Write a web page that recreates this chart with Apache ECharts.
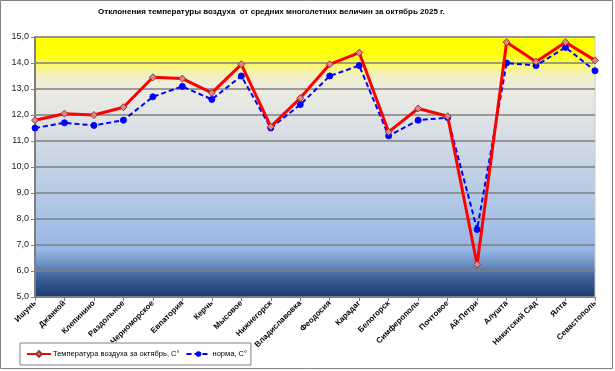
<!DOCTYPE html>
<html><head><meta charset="utf-8">
<script src="https://cdn.jsdelivr.net/npm/echarts@6/dist/echarts.min.js"></script>
<style>html,body{margin:0;padding:0;background:#fff}#c{width:615px;height:371px}</style>
</head><body><div id="c"></div>
<script>
const categories = ['Ишунь','Джанкой','Клепинино','Раздольное','Черноморское','Евпатория','Керчь','Мысовое','Нижнегорск','Владиславовка','Феодосия','Карадаг','Белогорск','Симферополь','Почтовое','Ай-Петри','Алушта','Никитский Сад','Ялта','Севастополь'];
const tempOct = [11.8,12.05,12.0,12.3,13.45,13.4,12.85,13.95,11.55,12.65,13.95,14.4,11.35,12.25,11.95,6.25,14.8,14.05,14.8,14.1];
const norm = [11.5,11.7,11.6,11.8,12.7,13.1,12.6,13.5,11.5,12.4,13.5,13.9,11.2,11.8,11.9,7.6,14.0,13.9,14.6,13.7];
const yTicks = {min:5, max:15, interval:1};

const chart = echarts.init(document.getElementById('c'));
const bg = new echarts.graphic.LinearGradient(0,0,0,1,[
  {offset:0, color:'#FFFF00'},
  {offset:0.07, color:'#FFFF08'},
  {offset:0.11, color:'#FAF870'},
  {offset:0.15, color:'#F2F0C4'},
  {offset:0.2, color:'#ECECE2'},
  {offset:0.28, color:'#E4E6E4'},
  {offset:0.5, color:'#C4D2E4'},
  {offset:0.7, color:'#A8C2E6'},
  {offset:0.82, color:'#96B6E4'},
  {offset:0.87, color:'#6E92C4'},
  {offset:0.92, color:'#3F639A'},
  {offset:1, color:'#1B3A6E'}
]);
chart.setOption({
  animation:false,
  title:{text:'Отклонения температуры воздуха  от средних многолетних величин за октябрь 2025 г.',
    left:93, top:3, textStyle:{fontSize:8, fontWeight:'bold', color:'#000', fontFamily:'Liberation Sans, Arial'}},
  grid:{left:35, right:20, top:37, bottom:74, show:true, backgroundColor:bg, borderColor:'#C8C8C8', borderWidth:1},
  xAxis:{type:'category', data:categories, boundaryGap:false,
    axisLine:{lineStyle:{color:'#808080', width:1}},
    axisTick:{show:true, length:4, lineStyle:{color:'#808080'}},
    axisLabel:{rotate:45, interval:0, fontSize:8, fontWeight:'bold', color:'#000', margin:5, fontFamily:'Liberation Sans, Arial'},
    splitLine:{show:false}},
  yAxis:{type:'value', min:yTicks.min, max:yTicks.max, interval:yTicks.interval,
    axisLine:{show:true, lineStyle:{color:'#808080', width:2}},
    axisTick:{show:true, length:4, lineStyle:{color:'#808080'}},
    axisLabel:{fontSize:9, color:'#222', margin:6, fontFamily:'Liberation Sans, Arial',
      formatter:v=>v.toFixed(1).replace('.',',')},
    splitLine:{show:true, lineStyle:{color:'#7F7F7F', width:1.5}}},
  legend:{left:20, top:343, padding:[7,4,7,6], itemGap:6,
    borderColor:'#808080', borderWidth:1, backgroundColor:'#fff',
    itemWidth:24, itemHeight:7,
    textStyle:{fontSize:7.5, color:'#000', fontFamily:'Liberation Sans, Arial', padding:[0,0,0,-3]},
    data:['Температура воздуха за октябрь, С°','норма, С°']},
  series:[
    {name:'Температура воздуха за октябрь, С°', type:'line', data:tempOct, z:3,
      symbol:'diamond', symbolSize:7,
      lineStyle:{color:'#FF0000', width:3},
      itemStyle:{color:'#D88A8A', borderColor:'#A03030', borderWidth:1}},
    {name:'норма, С°', type:'line', data:norm, z:2,
      symbol:'circle', symbolSize:6,
      lineStyle:{color:'#0000FF', width:2, type:[5,3]},
      itemStyle:{color:'#0000FF', borderColor:'#0000FF'}}
  ],
  graphic:[{type:'rect', shape:{x:0.5,y:0.5,width:612,height:368}, style:{fill:null, stroke:'#808080', lineWidth:1}, silent:true}]
});
</script></body></html>
